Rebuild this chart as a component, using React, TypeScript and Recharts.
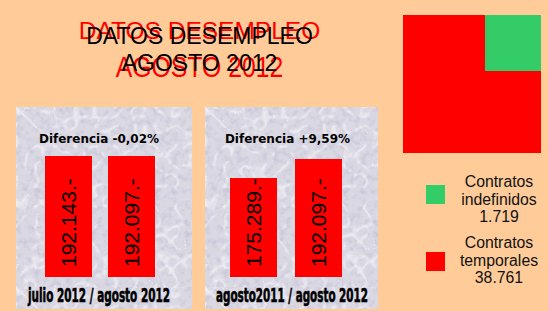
import { BarChart, Bar, XAxis, YAxis, LabelList, Treemap } from "recharts";

const PEACH = "#ffcc99";
const RED = "#ff0000";
const GREEN = "#33cc66";
const FONT = "'Liberation Sans', Arial, sans-serif";

// paro registrado
const monthCats = ["julio 2012", "agosto 2012"];
const monthValues = [192143, 192097];
const yearCats = ["agosto 2011", "agosto 2012"];
const yearValues = [175289, 192097];

const diffLabels = ["Diferencia -0,02%", "Diferencia +9,59%"];
const periodLabels = ["julio 2012 / agosto 2012", "agosto2011 / agosto 2012"];

// contratos agosto 2012
const contractNames = ["Contratos indefinidos", "Contratos temporales"];
const contractValues = [1719, 38761];

// share of the square that each block covers in the drawing (%)
const blockNames = ["temporales", "indefinidos", "temporales"];
const blockShares = [59.3, 16.4, 24.3];

const fmtMiles = (n: number) => String(n).replace(/\B(?=(\d{3})+(?!\d))/g, ".");

// marble-ish paper behind the bar panels
const noiseSvg = `<svg xmlns='http://www.w3.org/2000/svg' width='180' height='180'><filter id='f'><feTurbulence type='fractalNoise' baseFrequency='0.16' numOctaves='3' seed='7'/><feColorMatrix values='0 0 0 0 0.5 0 0 0 0 0.5 0 0 0 0 0.66 1.5 0 0 0 -0.68'/></filter><filter id='w'><feTurbulence type='turbulence' baseFrequency='0.05' numOctaves='2' seed='3'/><feColorMatrix values='0 0 0 0 1 0 0 0 0 1 0 0 0 0 1 -3 0 0 0 0.55'/></filter><rect width='100%' height='100%' fill='#dad8e2'/><rect width='100%' height='100%' filter='url(#f)'/><rect width='100%' height='100%' filter='url(#w)'/></svg>`;
const panelBg = `url("data:image/svg+xml;utf8,${encodeURIComponent(noiseSvg)}")`;

// rotated value written from the bottom of each bar upwards
const renderValue = (props: any) => {
  const { x, y, width, height, value } = props;
  const cx = x + width / 2;
  const by = y + height - 10;
  return (
    <text
      x={cx}
      y={by}
      transform={`rotate(-90 ${cx} ${by})`}
      textAnchor="start"
      dominantBaseline="central"
      fontSize={21}
      fontFamily={FONT}
      fill="#000"
    >
      {fmtMiles(value) + ".-"}
    </text>
  );
};

interface PanelProps {
  left: number;
  width: number;
  cats: string[];
  values: number[];
  domain: [number, number];
  margin: { top: number; right: number; bottom: number; left: number };
  diff: string;
  period: string;
  periodWidth: number;
  textX: number;
  periodX: number;
}

function Panel({ left, width, cats, values, domain, margin, diff, period, periodWidth, textX, periodX }: PanelProps) {
  const data = cats.map((c, i) => ({ periodo: c, parados: values[i] }));
  const height = 202;
  return (
    <div style={{ position: "absolute", left, top: 107, width, height, background: panelBg }}>
      <BarChart width={width} height={height} data={data} margin={margin}>
        <XAxis dataKey="periodo" hide />
        <YAxis hide type="number" domain={domain} allowDataOverflow />
        <Bar dataKey="parados" fill={RED} barSize={47} isAnimationActive={false}>
          <LabelList dataKey="parados" content={renderValue} />
        </Bar>
      </BarChart>
      <svg width={width} height={height} style={{ position: "absolute", left: 0, top: 0 }}>
        <text
          x={textX}
          y={36}
          textAnchor="middle"
          fontSize={12}
          fontWeight="bold"
          fontFamily="'DejaVu Sans', Verdana, sans-serif"
          fill="#000"
        >
          {diff}
        </text>
        <text
          x={periodX}
          y={195}
          textAnchor="middle"
          fontSize={20}
          fontWeight="bold"
          fontFamily="'Liberation Sans Narrow', 'DejaVu Sans Condensed', Arial, sans-serif"
          textLength={periodWidth}
          lengthAdjust="spacingAndGlyphs"
          fill="#000"
          stroke="#000"
          strokeWidth={0.6}
        >
          {period}
        </text>
      </svg>
    </div>
  );
}

const TreeCell = (props: any) => {
  const { x, y, width, height, children, color } = props;
  if (children && children.length) return <g />;
  return <rect x={x} y={y} width={width} height={height} fill={color} />;
};

export default function App() {
  const treeData = [
    { name: blockNames[0], value: blockShares[0], color: RED },
    {
      name: "resto",
      children: [
        { name: blockNames[1], value: blockShares[1], color: GREEN },
        { name: blockNames[2], value: blockShares[2], color: RED },
      ],
    },
  ];

  const legend = [
    { color: GREEN, top: 185, lines: ["Contratos", contractNames[0].split(" ")[1], fmtMiles(contractValues[0])], base: [187, 204.5, 222] },
    { color: RED, top: 252, lines: ["Contratos", contractNames[1].split(" ")[1], fmtMiles(contractValues[1])], base: [248.3, 265.5, 283.3] },
  ];

  return (
    <div
      style={{
        position: "absolute",
        left: 0,
        top: 0,
        width: 548,
        height: 311,
        background: PEACH,
        overflow: "hidden",
        fontFamily: FONT,
      }}
    >
      {/* title: red copy behind, black on top */}
      <svg width={548} height={311} style={{ position: "absolute", left: 0, top: 0 }}>
        <text x={199.5} y={39} textAnchor="middle" fontSize={24.5} fontFamily={FONT} fill={RED}>
          DATOS DESEMPLEO
        </text>
        <text transform="translate(199.5 77) scale(1 1.2)" x={0} y={0} textAnchor="middle" fontSize={24.8} fontFamily={FONT} fill={RED}>
          AGOSTO 2012
        </text>
        <text x={199.5} y={44} textAnchor="middle" fontSize={23} fontFamily={FONT} fill="#000">
          DATOS DESEMPLEO
        </text>
        <text x={199.5} y={71} textAnchor="middle" fontSize={23} fontFamily={FONT} fill="#000">
          AGOSTO 2012
        </text>
        {legend.map((l) =>
          l.lines.map((t, i) => (
            <text key={l.color + i} x={499} y={l.base[i]} textAnchor="middle" fontSize={15.8} fontFamily={FONT} fill="#111">
              {t}
            </text>
          ))
        )}
      </svg>

      <Panel
        left={16}
        width={176}
        cats={monthCats}
        values={monthValues}
        domain={[0, monthValues[0]]}
        margin={{ top: 49, right: 29, bottom: 32, left: 21 }}
        diff={diffLabels[0]}
        period={periodLabels[0]}
        periodWidth={142}
        textX={83}
        periodX={83}
      />
      <Panel
        left={205}
        width={173}
        cats={yearCats}
        values={yearValues}
        domain={[87700, yearValues[1]]}
        margin={{ top: 52, right: 27, bottom: 32, left: 16 }}
        diff={diffLabels[1]}
        period={periodLabels[1]}
        periodWidth={152}
        textX={82.5}
        periodX={87}
      />

      {/* contratos */}
      <div style={{ position: "absolute", left: 403, top: 15 }}>
        <Treemap width={138} height={138} data={treeData} dataKey="value" content={<TreeCell />} isAnimationActive={false} />
      </div>
      {legend.map((l) => (
        <div key={l.color} style={{ position: "absolute", left: 426, top: l.top, width: 19, height: 19, background: l.color }} />
      ))}
    </div>
  );
}
